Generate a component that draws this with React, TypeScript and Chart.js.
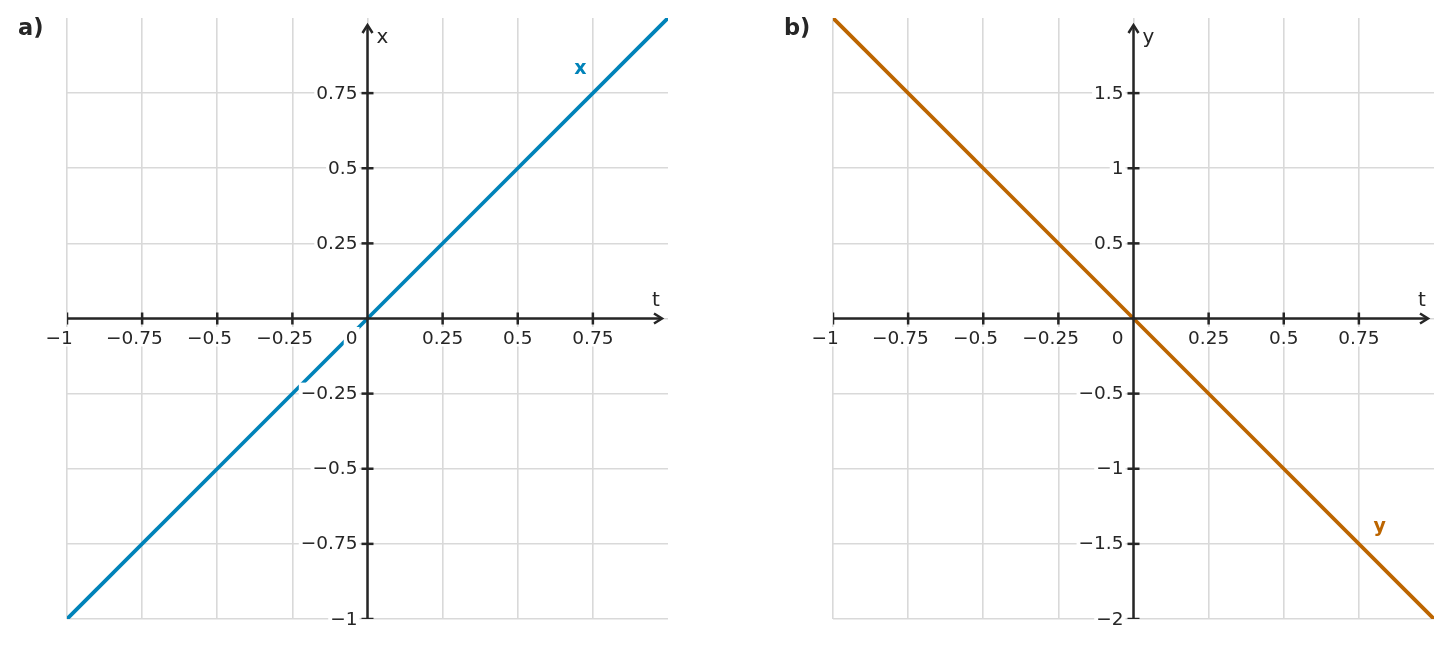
import { useEffect, useRef } from "react";
import { Chart, registerables } from "chart.js";

Chart.register(...registerables);

// series: x(t) = t and y(t) = -2t
const T_VALUES = [-1, -0.5, 0, 0.5, 1];
const X_VALUES = [-1, -0.5, 0, 0.5, 1];
const Y_VALUES = [2, 1, 0, -1, -2];

// tick values (the upper end of each range carries no tick)
const T_TICKS = [-1, -0.75, -0.5, -0.25, 0, 0.25, 0.5, 0.75];
const X_TICKS = [-1, -0.75, -0.5, -0.25, 0, 0.25, 0.5, 0.75];
const Y_TICKS = [-2, -1.5, -1, -0.5, 0, 0.5, 1, 1.5];

const T_RANGE = [-1, 1];
const X_RANGE = [-1, 1];
const Y_RANGE = [-2, 2];

// where the series names sit, in data units
const X_NAME_AT = [0.708, 0.813];
const Y_NAME_AT = [0.819, -1.424];

const FONT = "'DejaVu Sans', sans-serif";
const TICK_PX = 18.5;
const AXIS_COLOR = "#262626";
const GRID_COLOR = "#d9d9d9";
const BLUE = "#0083b9";
const ORANGE = "#bc6500";

const fmt = (v: number) => (v < 0 ? "\u2212" + String(-v) : String(v));

interface PanelProps {
	left: number;
	width: number;
	tag: string;
	yName: string;
	color: string;
	values: number[];
	yTicks: number[];
	yRange: number[];
	nameAt: number[];
	padRight: number;
}

function makeOverlay(p: PanelProps) {
	return {
		id: "axesOverlay",
		afterDatasetsDraw(chart: Chart) {
			const { ctx, chartArea } = chart;
			const xs = chart.scales.x;
			const ys = chart.scales.y;
			const ox = xs.getPixelForValue(0);
			const oy = ys.getPixelForValue(0);
			const tipX = chartArea.right - 6;
			const tipY = chartArea.top + 7;

			const seg = (x1: number, y1: number, x2: number, y2: number) => {
				ctx.beginPath();
				ctx.moveTo(x1, y1);
				ctx.lineTo(x2, y2);
				ctx.stroke();
			};

			ctx.save();
			// series name
			ctx.fillStyle = p.color;
			ctx.font = `bold 19px ${FONT}`;
			ctx.textAlign = "center";
			ctx.textBaseline = "alphabetic";
			ctx.fillText(p.yName, xs.getPixelForValue(p.nameAt[0]), ys.getPixelForValue(p.nameAt[1]));

			// tick labels with white halo boxes
			ctx.font = `${TICK_PX}px ${FONT}`;
			ctx.textAlign = "left";
			const digitH = TICK_PX * 0.73;
			const label = (text: string, right: number, base: number) => {
				const w = ctx.measureText(text).width;
				ctx.fillStyle = "#ffffff";
				ctx.fillRect(right - w - 2, base - digitH - 3, w + 4, digitH + 6);
				ctx.fillStyle = AXIS_COLOR;
				ctx.fillText(text, right - w, base);
			};
			for (const v of T_TICKS) {
				if (v === 0) continue;
				const px = xs.getPixelForValue(v);
				const numW = ctx.measureText(String(Math.abs(v))).width;
				label(fmt(v), px + numW / 2, oy + 25);
			}
			label("0", ox - 10, oy + 25);
			for (const v of p.yTicks) {
				if (v === 0) continue;
				label(fmt(v), ox - 10, ys.getPixelForValue(v) + 5.5);
			}

			// axes, ticks and arrows
			ctx.save();
			ctx.beginPath();
			ctx.rect(chartArea.left, chartArea.top, chartArea.right - chartArea.left, chartArea.bottom - chartArea.top);
			ctx.clip();
			ctx.strokeStyle = AXIS_COLOR;
			ctx.lineWidth = 2.5;
			seg(chartArea.left, oy, tipX, oy);
			seg(ox, chartArea.bottom, ox, tipY);
			for (const v of T_TICKS) {
				if (v === 0) continue;
				const px = xs.getPixelForValue(v);
				seg(px, oy - 6, px, oy + 6);
			}
			for (const v of p.yTicks) {
				if (v === 0) continue;
				const py = ys.getPixelForValue(v);
				seg(ox - 6, py, ox + 6, py);
			}
			ctx.lineJoin = "miter";
			ctx.beginPath();
			ctx.moveTo(tipX - 8, oy - 5);
			ctx.lineTo(tipX, oy);
			ctx.lineTo(tipX - 8, oy + 5);
			ctx.stroke();
			ctx.beginPath();
			ctx.moveTo(ox - 5, tipY + 8);
			ctx.lineTo(ox, tipY);
			ctx.lineTo(ox + 5, tipY + 8);
			ctx.stroke();
			ctx.restore();

			// axis titles
			ctx.fillStyle = AXIS_COLOR;
			ctx.font = `20px ${FONT}`;
			ctx.textAlign = "left";
			ctx.fillText(p.yName, ox + 9, chartArea.top + 25);
			ctx.textAlign = "center";
			ctx.fillText("t", tipX - 6, oy - 13);

			// panel tag
			ctx.font = `bold 22.5px ${FONT}`;
			ctx.textAlign = "left";
			ctx.fillText(p.tag, 18, 35);
			ctx.restore();
		},
	};
}

function Panel(p: PanelProps) {
	const canvasRef = useRef<HTMLCanvasElement | null>(null);

	useEffect(() => {
		if (!canvasRef.current) return;
		const chart = new Chart(canvasRef.current, {
			type: "line",
			data: {
				datasets: [
					{
						data: T_VALUES.map((t, i) => ({ x: t, y: p.values[i] })),
						borderColor: p.color,
						borderWidth: 3.8,
						pointRadius: 0,
						tension: 0,
						fill: false,
					},
				],
			},
			options: {
				responsive: true,
				maintainAspectRatio: false,
				animation: false,
				layout: { padding: { left: 67, top: 18, right: p.padRight, bottom: 29 } },
				plugins: {
					legend: { display: false },
					tooltip: { enabled: false },
				},
				scales: {
					x: {
						type: "linear",
						min: T_RANGE[0],
						max: T_RANGE[1],
						afterBuildTicks: (s) => {
							s.ticks = T_TICKS.map((v) => ({ value: v }));
						},
						ticks: { display: false },
						grid: { color: GRID_COLOR, lineWidth: 1.6, drawTicks: false },
						border: { display: false },
					},
					y: {
						type: "linear",
						min: p.yRange[0],
						max: p.yRange[1],
						afterBuildTicks: (s) => {
							s.ticks = p.yTicks.map((v) => ({ value: v }));
						},
						ticks: { display: false },
						grid: { color: GRID_COLOR, lineWidth: 1.6, drawTicks: false },
						border: { display: false },
					},
				},
			},
			plugins: [makeOverlay(p)],
		});
		return () => chart.destroy();
	}, []);

	return (
		<div style={{ position: "absolute", left: p.left, top: 0, width: p.width, height: 648 }}>
			<canvas ref={canvasRef} />
		</div>
	);
}

export default function App() {
	return (
		<div style={{ position: "absolute", left: 0, top: 0, width: 1453, height: 648, background: "#ffffff" }}>
			<Panel
				left={0}
				width={720}
				tag="a)"
				yName="x"
				color={BLUE}
				values={X_VALUES}
				yTicks={X_TICKS}
				yRange={X_RANGE}
				nameAt={X_NAME_AT}
				padRight={52}
			/>
			<Panel
				left={766}
				width={687}
				tag="b)"
				yName="y"
				color={ORANGE}
				values={Y_VALUES}
				yTicks={Y_TICKS}
				yRange={Y_RANGE}
				nameAt={Y_NAME_AT}
				padRight={19}
			/>
		</div>
	);
}
